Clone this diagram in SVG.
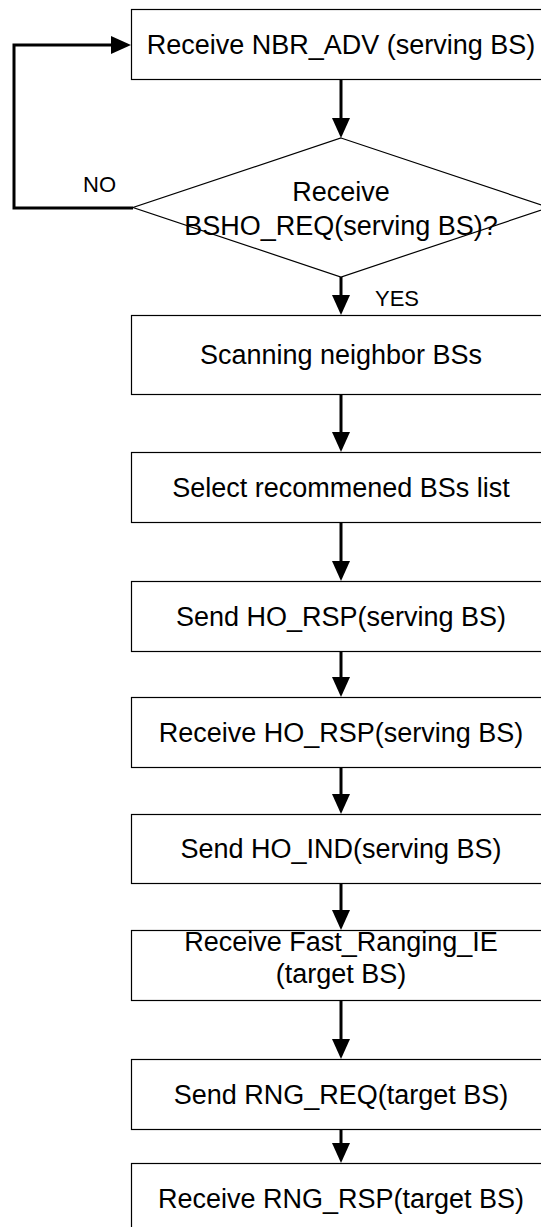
<svg xmlns="http://www.w3.org/2000/svg" width="541" height="1227" viewBox="0 0 541 1227">
<style>
.box{fill:#fff;stroke:#000;stroke-width:1.2}
.t{font-family:"Liberation Sans",Arial,sans-serif;font-size:27px;fill:#000;text-anchor:middle}
.lbl{font-family:"Liberation Sans",Arial,sans-serif;font-size:22px;fill:#000}
.c{fill:none;stroke:#000;stroke-width:3}
</style>
<defs>
<marker id="ah" markerUnits="userSpaceOnUse" markerWidth="20" markerHeight="18" viewBox="0 0 20 18" refX="8" refY="9" orient="auto">
<path d="M0,0 L20,9 L0,18 z" fill="#000"/>
</marker>
</defs>
<rect width="541" height="1227" fill="#fff"/>
<g id="connectors">
<line class="c" x1="341" y1="79" x2="341" y2="126" marker-end="url(#ah)"/>
<line class="c" x1="341" y1="277" x2="341" y2="303" marker-end="url(#ah)"/>
<line class="c" x1="341" y1="394" x2="341" y2="440" marker-end="url(#ah)"/>
<line class="c" x1="341" y1="522" x2="341" y2="569" marker-end="url(#ah)"/>
<line class="c" x1="341" y1="651" x2="341" y2="685" marker-end="url(#ah)"/>
<line class="c" x1="341" y1="767" x2="341" y2="802" marker-end="url(#ah)"/>
<line class="c" x1="341" y1="883" x2="341" y2="918" marker-end="url(#ah)"/>
<line class="c" x1="341" y1="1000" x2="341" y2="1047" marker-end="url(#ah)"/>
<line class="c" x1="341" y1="1129" x2="341" y2="1151" marker-end="url(#ah)"/>
<polyline class="c" points="133,208 14,208 14,45 119,45" marker-end="url(#ah)"/>
<text class="lbl" x="83" y="192">NO</text>
<text class="lbl" x="375" y="306">YES</text>
</g>
<g id="n1"><rect class="box" x="131.5" y="9.5" width="420" height="70"/><text class="t" x="341" y="53.5">Receive NBR_ADV (serving BS)</text></g>
<g id="n2"><polygon class="box" points="341,138 549,207.5 341,277 133,207.5"/><text class="t" x="341" y="201">Receive</text><text class="t" x="341" y="235">BSHO_REQ(serving BS)?</text></g>
<g id="n3"><rect class="box" x="131.5" y="315.5" width="420" height="79"/><text class="t" x="341" y="364">Scanning neighbor BSs</text></g>
<g id="n4"><rect class="box" x="131.5" y="452.5" width="420" height="70"/><text class="t" x="341" y="496.5">Select recommened BSs list</text></g>
<g id="n5"><rect class="box" x="131.5" y="581.5" width="420" height="70"/><text class="t" x="341" y="625.5">Send HO_RSP(serving BS)</text></g>
<g id="n6"><rect class="box" x="131.5" y="697.5" width="420" height="70"/><text class="t" x="341" y="741.5">Receive HO_RSP(serving BS)</text></g>
<g id="n7"><rect class="box" x="131.5" y="814.5" width="420" height="69"/><text class="t" x="341" y="858">Send HO_IND(serving BS)</text></g>
<g id="n8"><rect class="box" x="131.5" y="930.5" width="420" height="70"/><text class="t" x="341" y="951">Receive Fast_Ranging_IE</text><text class="t" x="341" y="983">(target BS)</text></g>
<g id="n9"><rect class="box" x="131.5" y="1059.5" width="420" height="70"/><text class="t" x="341" y="1103.5">Send RNG_REQ(target BS)</text></g>
<g id="n10"><rect class="box" x="131.5" y="1163.5" width="420" height="70"/><text class="t" x="341" y="1207.5">Receive RNG_RSP(target BS)</text></g>
</svg>
